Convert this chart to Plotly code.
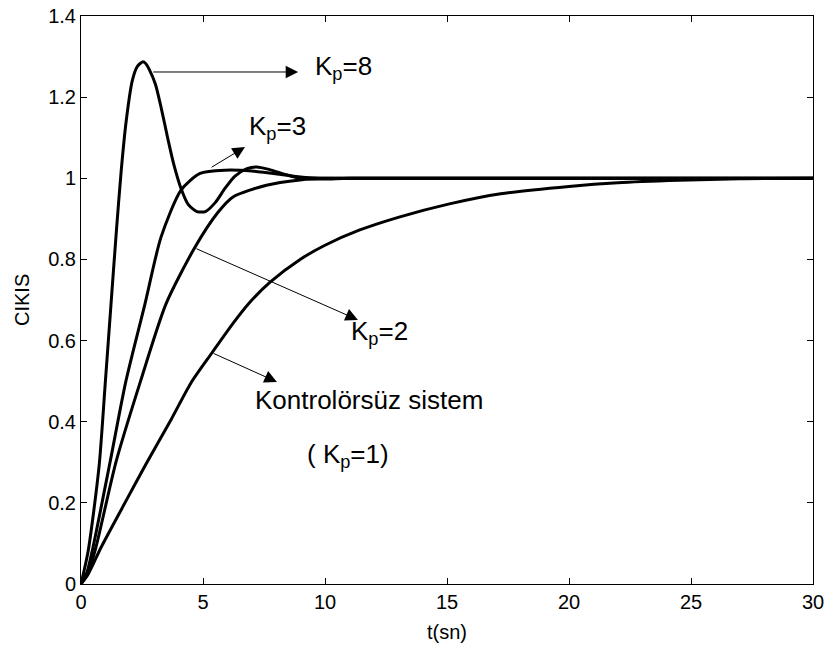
import plotly.graph_objects as go

# ---- data ----
t_kp1 = [0, 0.3, 0.82, 1.8, 2.66, 3.69, 4.5, 5.37, 6.2, 6.93, 7.75, 8.98, 10.0, 11.4, 13.07, 15.1, 17.2, 20.0, 22.0, 24.5, 27.0, 30.0]
y_kp1 = [0, 0.025, 0.09, 0.20, 0.295, 0.405, 0.495, 0.57, 0.64, 0.695, 0.744, 0.80, 0.835, 0.872, 0.905, 0.937, 0.962, 0.980, 0.989, 0.995, 0.999, 1.0]

t_kp2 = [0, 0.3, 0.61, 1.43, 2.44, 3.48, 4.67, 5.6, 6.23, 7.6, 8.98, 10.0, 12.0, 30.0]
y_kp2 = [0, 0.03, 0.09, 0.30, 0.50, 0.69, 0.83, 0.915, 0.954, 0.983, 0.996, 1.0, 1.0, 1.0]

t_kp3 = [0, 0.25, 0.49, 1.19, 1.84, 2.62, 3.28, 4.1, 4.88, 5.9, 7.0, 8.15, 9.0, 10.0, 30.0]
y_kp3 = [0, 0.03, 0.09, 0.30, 0.50, 0.69, 0.855, 0.971, 1.012, 1.02, 1.018, 1.01, 1.003, 1.0, 1.0]

t_kp8 = [0, 0.29, 0.74, 1.0, 1.23, 1.45, 1.65, 1.85, 2.1, 2.3, 2.45, 2.54, 2.65, 2.8, 3.05, 3.3, 3.55, 3.8, 4.1, 4.4, 4.75, 5.1, 5.5, 5.9, 6.3, 6.8, 7.2, 7.7, 8.44, 9.0, 10.0, 11.0, 30.0]
y_kp8 = [0, 0.08, 0.29, 0.50, 0.69, 0.87, 1.02, 1.14, 1.24, 1.275, 1.284, 1.287, 1.283, 1.268, 1.232, 1.17, 1.10, 1.035, 0.975, 0.935, 0.918, 0.918, 0.94, 0.975, 1.005, 1.024, 1.028, 1.022, 1.008, 1.0, 0.998, 1.0, 1.0]

x_ticks = [0, 5, 10, 15, 20, 25, 30]
y_ticks = [0, 0.2, 0.4, 0.6, 0.8, 1.0, 1.2, 1.4]
y_tick_text = ["0", "0.2", "0.4", "0.6", "0.8", "1", "1.2", "1.4"]

x_label = "t(sn)"
y_label = "CIKIS"

# labels: (text, x, y)
labels = [
    ("K<sub>p</sub>=8", 9.5, 1.274),
    ("K<sub>p</sub>=3", 6.8, 1.124),
    ("K<sub>p</sub>=2", 11.0, 0.619),
    ("Kontrolörsüz sistem", 7.05, 0.454),
    ("( K<sub>p</sub>=1)", 9.2, 0.316),
]
# arrows: (tail x, tail y, head x, head y)
arrows = [
    (2.9, 1.262, 8.9, 1.262),
    (5.29, 1.025, 6.72, 1.077),
    (4.67, 0.828, 11.35, 0.651),
    (5.37, 0.57, 8.03, 0.498),
]

FONT = "Liberation Sans, Arial, sans-serif"

fig = go.Figure()
for tt, yy in [(t_kp1, y_kp1), (t_kp2, y_kp2), (t_kp3, y_kp3), (t_kp8, y_kp8)]:
    fig.add_trace(go.Scatter(
        x=tt, y=yy, mode="lines",
        line=dict(color="black", width=3, shape="spline", smoothing=0.7),
        showlegend=False, hoverinfo="skip",
    ))

for txt, x, y in labels:
    fig.add_annotation(
        x=x, y=y, xref="x", yref="y", text=txt, showarrow=False,
        xanchor="left", yanchor="middle",
        font=dict(family=FONT, size=26, color="black"),
    )

for x0, y0, x1, y1 in arrows:
    fig.add_annotation(
        x=x1, y=y1, ax=x0, ay=y0, xref="x", yref="y", axref="x", ayref="y",
        text="", showarrow=True, arrowhead=2, arrowsize=2.5, arrowwidth=1,
        arrowcolor="black", standoff=0, startstandoff=0,
    )

# y-axis title placed as a rotated text, 22px from the left edge
fig.add_annotation(
    x=(22 - 81) / 732, y=0.5, xref="paper", yref="paper", text=y_label,
    showarrow=False, textangle=-90, xanchor="center", yanchor="middle",
    font=dict(family=FONT, size=20, color="black"),
)

axis_common = dict(
    showline=True, linecolor="black", linewidth=1, mirror="ticks",
    ticks="inside", ticklen=6, tickcolor="black", tickwidth=1,
    showgrid=False, zeroline=False, automargin=False,
    tickfont=dict(family=FONT, size=20, color="black"),
)

fig.update_xaxes(
    range=[0, 30], tickmode="array", tickvals=x_ticks,
    title=dict(text=x_label, font=dict(family=FONT, size=20, color="black"), standoff=12),
    **axis_common,
)
fig.update_yaxes(
    range=[0, 1.4], tickmode="array", tickvals=y_ticks, ticktext=y_tick_text,
    **axis_common,
)

fig.update_layout(
    width=825, height=645,
    margin=dict(l=81, r=12, t=16, b=61),
    paper_bgcolor="white", plot_bgcolor="white",
)

fig.write_html(
    "out.html",
    config={"displayModeBar": False},
    post_script="document.body.style.margin='0';document.body.style.overflow='hidden';",
)
